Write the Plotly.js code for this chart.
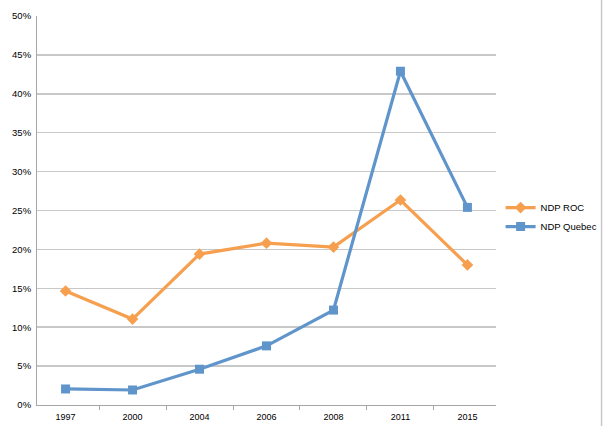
<!DOCTYPE html>
<html><head><meta charset="utf-8">
<script src="https://cdn.plot.ly/plotly-3.0.1.min.js"></script>
<style>html,body{margin:0;padding:0;background:#fff}#c{width:605px;height:426px}</style>
</head><body><div id="c"></div>
<script>
const years = ['1997','2000','2004','2006','2008','2011','2015'];
const ndpROC = [0.1465, 0.1105, 0.194, 0.208, 0.203, 0.2635, 0.180];
const ndpQuebec = [0.0206, 0.0193, 0.046, 0.076, 0.122, 0.429, 0.254];
const yTicks = [0,0.05,0.10,0.15,0.20,0.25,0.30,0.35,0.40,0.45,0.50];
const yTickText = ['0%','5%','10%','15%','20%','25%','30%','35%','40%','45%','50%'];

const traces = [
  {x: years, y: ndpROC, name: 'NDP ROC', type: 'scatter', mode: 'lines+markers',
   line: {color: '#F6A04F', width: 3.2}, marker: {symbol: 'diamond', size: 9, color: '#F6A04F'}},
  {x: years, y: ndpQuebec, name: 'NDP Quebec', type: 'scatter', mode: 'lines+markers',
   line: {color: '#5F95CB', width: 3.2}, marker: {symbol: 'square', size: 9, color: '#5F95CB'}}
];
const layout = {
  width: 605, height: 426,
  margin: {l: 37, r: 109, t: 16, b: 21, autoexpand: false},
  paper_bgcolor: '#fff', plot_bgcolor: '#fff',
  font: {family: 'Liberation Sans, Arial, sans-serif', size: 9, color: '#000'},
  showlegend: true,
  legend: {x: 1.01, y: 0.483, xanchor: 'left', yanchor: 'middle', font: {size: 9.5},
           tracegroupgap: 0, itemwidth: 30, bgcolor: 'rgba(0,0,0,0)'},
  xaxis: {type: 'category', showgrid: false, showline: true, linecolor: '#a6a6a6', linewidth: 1,
          ticks: 'outside', tickson: 'boundaries', ticklen: 4, tickcolor: '#a6a6a6',
          tickfont: {size: 9}, zeroline: false, ticklabelstandoff: 3},
  yaxis: {range: [0, 0.5], tickvals: yTicks, ticktext: yTickText, showgrid: true,
          gridcolor: '#c8c8c8', gridwidth: 1.5, showline: true, linecolor: '#a6a6a6', linewidth: 1,
          ticks: '', zeroline: false, tickfont: {size: 9.5}, ticklabelstandoff: 3},
  shapes: [
    {type: 'line', xref: 'paper', yref: 'paper', x0: 1.23, x1: 1.23, y0: -0.06, y1: 1.05, line: {color: '#c8c8c8', width: 1.5}, layer: 'below'}
  ]
};
Plotly.newPlot('c', traces, layout, {displayModeBar: false, staticPlot: true});
</script></body></html>
